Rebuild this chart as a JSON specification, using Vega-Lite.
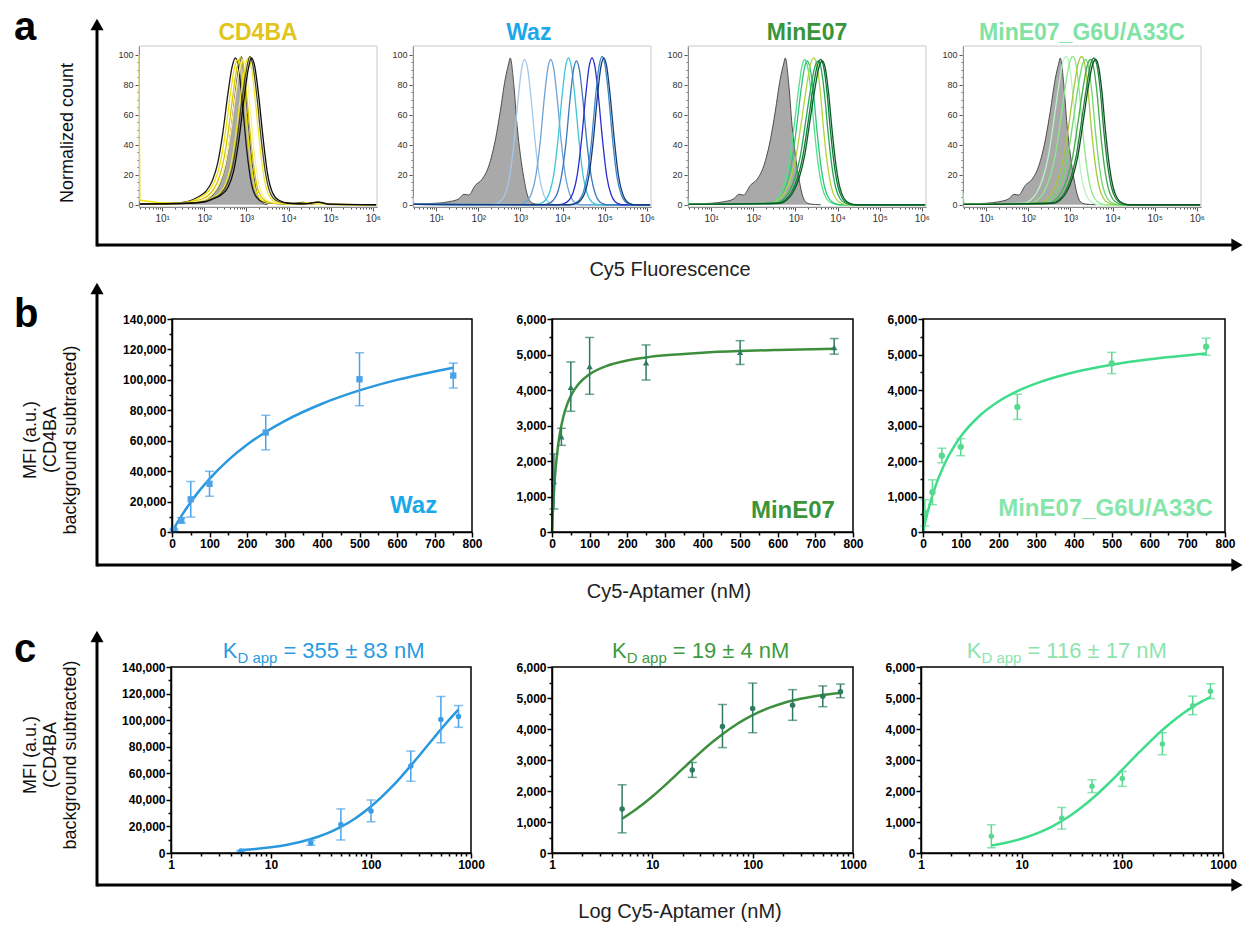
{
"$schema":"https://vega.github.io/schema/vega-lite/v6.json",
"width":1244,"height":925,"autosize":"none","padding":0,
"background":"white",
"config":{"view":{"stroke":null},"font":"Liberation Sans","axis":{"grid":false}},
"datasets":{
"gStd":[{"x":0.45,"y":0.5},{"x":1.0,"y":1},{"x":1.3,"y":2},{"x":1.54,"y":4},{"x":1.66,"y":7},{"x":1.77,"y":6.5},{"x":1.93,"y":13},{"x":2.09,"y":17},{"x":2.25,"y":26},{"x":2.41,"y":44},{"x":2.52,"y":62},{"x":2.64,"y":84},{"x":2.72,"y":94},{"x":2.76,"y":98},{"x":2.84,"y":81},{"x":2.92,"y":53},{"x":3.0,"y":33},{"x":3.08,"y":18},{"x":3.16,"y":7},{"x":3.24,"y":2},{"x":3.35,"y":0.5},{"x":3.6,"y":0}],
"gCD":[{"x":0.45,"y":0.3},{"x":1.2,"y":0.5},{"x":1.6,"y":1},{"x":1.9,"y":2},{"x":2.1,"y":4},{"x":2.25,"y":8},{"x":2.4,"y":16},{"x":2.53,"y":30},{"x":2.64,"y":52},{"x":2.74,"y":76},{"x":2.82,"y":92},{"x":2.88,"y":99},{"x":2.96,"y":82},{"x":3.04,"y":55},{"x":3.12,"y":32},{"x":3.2,"y":15},{"x":3.28,"y":5},{"x":3.38,"y":1},{"x":3.5,"y":0}],
"hCD":[
{"s":"c1","x":0.45,"y":0.5},{"s":"c1","x":1.24,"y":1},{"s":"c1","x":1.64,"y":2.5},{"s":"c1","x":1.84,"y":5},{"s":"c1","x":2.04,"y":9},{"s":"c1","x":2.19,"y":16},{"s":"c1","x":2.32,"y":28},{"s":"c1","x":2.44,"y":48},{"s":"c1","x":2.56,"y":74},{"s":"c1","x":2.66,"y":92},{"s":"c1","x":2.74,"y":98},{"s":"c1","x":2.82,"y":90},{"s":"c1","x":2.91,"y":66},{"s":"c1","x":3.01,"y":36},{"s":"c1","x":3.12,"y":14},{"s":"c1","x":3.24,"y":5},{"s":"c1","x":3.39,"y":2},{"s":"c1","x":3.64,"y":1},{"s":"c1","x":4.04,"y":0.6},{"s":"c1","x":4.34,"y":1.5},{"s":"c1","x":4.59,"y":0.4},{"s":"c1","x":6.08,"y":0},
{"s":"c2","x":0.45,"y":100},{"s":"c2","x":0.47,"y":3},{"s":"c2","x":1.3,"y":1},{"s":"c2","x":1.7,"y":2.5},{"s":"c2","x":1.9,"y":5},{"s":"c2","x":2.1,"y":9},{"s":"c2","x":2.25,"y":16},{"s":"c2","x":2.38,"y":28},{"s":"c2","x":2.5,"y":48},{"s":"c2","x":2.62,"y":74},{"s":"c2","x":2.72,"y":92},{"s":"c2","x":2.8,"y":97},{"s":"c2","x":2.88,"y":90},{"s":"c2","x":2.97,"y":66},{"s":"c2","x":3.07,"y":36},{"s":"c2","x":3.18,"y":14},{"s":"c2","x":3.3,"y":5},{"s":"c2","x":3.45,"y":2},{"s":"c2","x":3.7,"y":1},{"s":"c2","x":4.1,"y":0.6},{"s":"c2","x":4.4,"y":1.2},{"s":"c2","x":4.65,"y":0.4},{"s":"c2","x":6.08,"y":0},
{"s":"c3","x":0.45,"y":0.5},{"s":"c3","x":1.36,"y":1},{"s":"c3","x":1.76,"y":2.5},{"s":"c3","x":1.96,"y":4},{"s":"c3","x":2.16,"y":8},{"s":"c3","x":2.31,"y":15},{"s":"c3","x":2.44,"y":27},{"s":"c3","x":2.56,"y":47},{"s":"c3","x":2.68,"y":73},{"s":"c3","x":2.78,"y":92},{"s":"c3","x":2.86,"y":98},{"s":"c3","x":2.94,"y":90},{"s":"c3","x":3.03,"y":66},{"s":"c3","x":3.13,"y":36},{"s":"c3","x":3.24,"y":14},{"s":"c3","x":3.36,"y":5},{"s":"c3","x":3.51,"y":2},{"s":"c3","x":3.76,"y":1},{"s":"c3","x":4.16,"y":0.5},{"s":"c3","x":4.46,"y":1.2},{"s":"c3","x":4.71,"y":0.3},{"s":"c3","x":6.08,"y":0},
{"s":"c4","x":0.45,"y":0.5},{"s":"c4","x":1.42,"y":1},{"s":"c4","x":1.82,"y":2},{"s":"c4","x":2.02,"y":4},{"s":"c4","x":2.22,"y":8},{"s":"c4","x":2.37,"y":15},{"s":"c4","x":2.5,"y":27},{"s":"c4","x":2.62,"y":47},{"s":"c4","x":2.74,"y":73},{"s":"c4","x":2.84,"y":91},{"s":"c4","x":2.92,"y":97},{"s":"c4","x":3.0,"y":89},{"s":"c4","x":3.09,"y":64},{"s":"c4","x":3.19,"y":34},{"s":"c4","x":3.3,"y":13},{"s":"c4","x":3.42,"y":5},{"s":"c4","x":3.57,"y":2},{"s":"c4","x":3.82,"y":1},{"s":"c4","x":4.22,"y":0.5},{"s":"c4","x":4.52,"y":1},{"s":"c4","x":4.77,"y":0.3},{"s":"c4","x":6.08,"y":0},
{"s":"c5","x":0.45,"y":0.5},{"s":"c5","x":1.54,"y":1},{"s":"c5","x":1.94,"y":2},{"s":"c5","x":2.14,"y":4},{"s":"c5","x":2.34,"y":7},{"s":"c5","x":2.49,"y":13},{"s":"c5","x":2.62,"y":25},{"s":"c5","x":2.74,"y":45},{"s":"c5","x":2.86,"y":72},{"s":"c5","x":2.96,"y":91},{"s":"c5","x":3.04,"y":98},{"s":"c5","x":3.12,"y":91},{"s":"c5","x":3.21,"y":70},{"s":"c5","x":3.31,"y":42},{"s":"c5","x":3.42,"y":18},{"s":"c5","x":3.54,"y":6},{"s":"c5","x":3.69,"y":2},{"s":"c5","x":3.94,"y":1},{"s":"c5","x":4.34,"y":0.6},{"s":"c5","x":4.64,"y":1.5},{"s":"c5","x":4.89,"y":0.4},{"s":"c5","x":6.08,"y":0},
{"s":"c6","x":0.45,"y":0.5},{"s":"c6","x":1.58,"y":1},{"s":"c6","x":1.98,"y":2},{"s":"c6","x":2.18,"y":4},{"s":"c6","x":2.38,"y":7},{"s":"c6","x":2.53,"y":13},{"s":"c6","x":2.66,"y":24},{"s":"c6","x":2.78,"y":44},{"s":"c6","x":2.9,"y":71},{"s":"c6","x":3.0,"y":90},{"s":"c6","x":3.08,"y":99},{"s":"c6","x":3.16,"y":92},{"s":"c6","x":3.25,"y":72},{"s":"c6","x":3.35,"y":44},{"s":"c6","x":3.46,"y":20},{"s":"c6","x":3.58,"y":7},{"s":"c6","x":3.73,"y":2.5},{"s":"c6","x":3.98,"y":1},{"s":"c6","x":4.38,"y":0.6},{"s":"c6","x":4.68,"y":1.8},{"s":"c6","x":4.93,"y":0.4},{"s":"c6","x":6.08,"y":0},
{"s":"c7","x":0.45,"y":0.5},{"s":"c7","x":1.62,"y":1},{"s":"c7","x":2.02,"y":2},{"s":"c7","x":2.22,"y":4},{"s":"c7","x":2.42,"y":7},{"s":"c7","x":2.57,"y":12},{"s":"c7","x":2.7,"y":23},{"s":"c7","x":2.82,"y":43},{"s":"c7","x":2.94,"y":70},{"s":"c7","x":3.04,"y":90},{"s":"c7","x":3.12,"y":98},{"s":"c7","x":3.2,"y":92},{"s":"c7","x":3.29,"y":73},{"s":"c7","x":3.39,"y":46},{"s":"c7","x":3.5,"y":21},{"s":"c7","x":3.62,"y":8},{"s":"c7","x":3.77,"y":3},{"s":"c7","x":4.02,"y":1},{"s":"c7","x":4.42,"y":0.6},{"s":"c7","x":4.72,"y":1.8},{"s":"c7","x":4.97,"y":0.4},{"s":"c7","x":6.08,"y":0}
],
"hWaz":[
{"s":"w1","x":0.45,"y":5},{"s":"w1","x":0.48,"y":0.3},{"s":"w1","x":2.3,"y":0},{"s":"w1","x":2.45,"y":1},{"s":"w1","x":2.55,"y":3},{"s":"w1","x":2.65,"y":8},{"s":"w1","x":2.75,"y":20},{"s":"w1","x":2.85,"y":42},{"s":"w1","x":2.95,"y":72},{"s":"w1","x":3.03,"y":91},{"s":"w1","x":3.1,"y":97},{"s":"w1","x":3.17,"y":91},{"s":"w1","x":3.25,"y":72},{"s":"w1","x":3.35,"y":42},{"s":"w1","x":3.45,"y":19},{"s":"w1","x":3.55,"y":7},{"s":"w1","x":3.65,"y":2},{"s":"w1","x":3.8,"y":0},{"s":"w1","x":6.08,"y":0},
{"s":"w2","x":0.45,"y":0.3},{"s":"w2","x":2.92,"y":0},{"s":"w2","x":3.07,"y":1},{"s":"w2","x":3.17,"y":3},{"s":"w2","x":3.27,"y":8},{"s":"w2","x":3.37,"y":20},{"s":"w2","x":3.47,"y":42},{"s":"w2","x":3.57,"y":72},{"s":"w2","x":3.65,"y":91},{"s":"w2","x":3.72,"y":97},{"s":"w2","x":3.79,"y":91},{"s":"w2","x":3.87,"y":72},{"s":"w2","x":3.97,"y":42},{"s":"w2","x":4.07,"y":19},{"s":"w2","x":4.17,"y":7},{"s":"w2","x":4.27,"y":2},{"s":"w2","x":4.42,"y":0},{"s":"w2","x":6.08,"y":0},
{"s":"w3","x":0.45,"y":0.3},{"s":"w3","x":3.34,"y":0},{"s":"w3","x":3.49,"y":1},{"s":"w3","x":3.59,"y":3},{"s":"w3","x":3.69,"y":8},{"s":"w3","x":3.79,"y":20},{"s":"w3","x":3.89,"y":43},{"s":"w3","x":3.99,"y":73},{"s":"w3","x":4.07,"y":92},{"s":"w3","x":4.14,"y":98},{"s":"w3","x":4.21,"y":92},{"s":"w3","x":4.29,"y":73},{"s":"w3","x":4.39,"y":43},{"s":"w3","x":4.49,"y":19},{"s":"w3","x":4.59,"y":7},{"s":"w3","x":4.69,"y":2},{"s":"w3","x":4.84,"y":0},{"s":"w3","x":6.08,"y":0},
{"s":"w4","x":0.45,"y":0.3},{"s":"w4","x":3.53,"y":0},{"s":"w4","x":3.68,"y":1},{"s":"w4","x":3.78,"y":3},{"s":"w4","x":3.88,"y":8},{"s":"w4","x":3.98,"y":20},{"s":"w4","x":4.08,"y":41},{"s":"w4","x":4.18,"y":71},{"s":"w4","x":4.26,"y":90},{"s":"w4","x":4.33,"y":96},{"s":"w4","x":4.4,"y":90},{"s":"w4","x":4.48,"y":71},{"s":"w4","x":4.58,"y":41},{"s":"w4","x":4.68,"y":19},{"s":"w4","x":4.78,"y":7},{"s":"w4","x":4.88,"y":2},{"s":"w4","x":5.03,"y":0},{"s":"w4","x":6.08,"y":0},
{"s":"w5","x":0.45,"y":0.3},{"s":"w5","x":3.9,"y":0},{"s":"w5","x":4.05,"y":1},{"s":"w5","x":4.15,"y":3},{"s":"w5","x":4.25,"y":8},{"s":"w5","x":4.35,"y":20},{"s":"w5","x":4.45,"y":43},{"s":"w5","x":4.55,"y":73},{"s":"w5","x":4.63,"y":92},{"s":"w5","x":4.7,"y":98},{"s":"w5","x":4.77,"y":92},{"s":"w5","x":4.85,"y":73},{"s":"w5","x":4.95,"y":43},{"s":"w5","x":5.05,"y":19},{"s":"w5","x":5.15,"y":7},{"s":"w5","x":5.25,"y":2},{"s":"w5","x":5.4,"y":0},{"s":"w5","x":6.08,"y":0},
{"s":"w6","x":0.45,"y":0.3},{"s":"w6","x":4.14,"y":0},{"s":"w6","x":4.29,"y":1},{"s":"w6","x":4.39,"y":3},{"s":"w6","x":4.49,"y":8},{"s":"w6","x":4.59,"y":20},{"s":"w6","x":4.69,"y":43},{"s":"w6","x":4.79,"y":74},{"s":"w6","x":4.87,"y":93},{"s":"w6","x":4.94,"y":99},{"s":"w6","x":5.01,"y":93},{"s":"w6","x":5.09,"y":74},{"s":"w6","x":5.19,"y":43},{"s":"w6","x":5.29,"y":19},{"s":"w6","x":5.39,"y":7},{"s":"w6","x":5.49,"y":2},{"s":"w6","x":5.64,"y":0},{"s":"w6","x":6.08,"y":0},
{"s":"w7","x":0.45,"y":0.3},{"s":"w7","x":4.18,"y":0},{"s":"w7","x":4.33,"y":1},{"s":"w7","x":4.43,"y":3},{"s":"w7","x":4.53,"y":8},{"s":"w7","x":4.63,"y":20},{"s":"w7","x":4.73,"y":43},{"s":"w7","x":4.83,"y":73},{"s":"w7","x":4.91,"y":92},{"s":"w7","x":4.98,"y":98},{"s":"w7","x":5.05,"y":92},{"s":"w7","x":5.13,"y":73},{"s":"w7","x":5.23,"y":43},{"s":"w7","x":5.33,"y":19},{"s":"w7","x":5.43,"y":7},{"s":"w7","x":5.53,"y":2},{"s":"w7","x":5.68,"y":0},{"s":"w7","x":6.08,"y":0}
],
"hMin":[
{"s":"m1","x":0.45,"y":4},{"s":"m1","x":0.48,"y":0.3},{"s":"m1","x":2.42,"y":1},{"s":"m1","x":2.54,"y":3},{"s":"m1","x":2.66,"y":8},{"s":"m1","x":2.78,"y":18},{"s":"m1","x":2.88,"y":33},{"s":"m1","x":2.98,"y":55},{"s":"m1","x":3.08,"y":78},{"s":"m1","x":3.16,"y":93},{"s":"m1","x":3.22,"y":97},{"s":"m1","x":3.29,"y":92},{"s":"m1","x":3.37,"y":75},{"s":"m1","x":3.45,"y":50},{"s":"m1","x":3.54,"y":27},{"s":"m1","x":3.64,"y":11},{"s":"m1","x":3.74,"y":4},{"s":"m1","x":3.87,"y":1},{"s":"m1","x":4.02,"y":0},{"s":"m1","x":6.08,"y":0},
{"s":"m2","x":0.45,"y":0.3},{"s":"m2","x":2.48,"y":1},{"s":"m2","x":2.6,"y":3},{"s":"m2","x":2.72,"y":8},{"s":"m2","x":2.84,"y":18},{"s":"m2","x":2.94,"y":33},{"s":"m2","x":3.04,"y":55},{"s":"m2","x":3.14,"y":78},{"s":"m2","x":3.22,"y":92},{"s":"m2","x":3.28,"y":96},{"s":"m2","x":3.35,"y":91},{"s":"m2","x":3.43,"y":74},{"s":"m2","x":3.51,"y":50},{"s":"m2","x":3.6,"y":27},{"s":"m2","x":3.7,"y":11},{"s":"m2","x":3.8,"y":4},{"s":"m2","x":3.93,"y":1},{"s":"m2","x":4.08,"y":0},{"s":"m2","x":6.08,"y":0},
{"s":"m3","x":0.45,"y":0.3},{"s":"m3","x":2.44,"y":1},{"s":"m3","x":2.59,"y":3},{"s":"m3","x":2.74,"y":8},{"s":"m3","x":2.89,"y":18},{"s":"m3","x":3.02,"y":33},{"s":"m3","x":3.14,"y":55},{"s":"m3","x":3.26,"y":78},{"s":"m3","x":3.36,"y":94},{"s":"m3","x":3.44,"y":98},{"s":"m3","x":3.51,"y":93},{"s":"m3","x":3.59,"y":76},{"s":"m3","x":3.67,"y":50},{"s":"m3","x":3.76,"y":27},{"s":"m3","x":3.86,"y":11},{"s":"m3","x":3.96,"y":4},{"s":"m3","x":4.09,"y":1},{"s":"m3","x":4.24,"y":0},{"s":"m3","x":6.08,"y":0},
{"s":"m4","x":0.45,"y":0.3},{"s":"m4","x":2.54,"y":1},{"s":"m4","x":2.69,"y":3},{"s":"m4","x":2.84,"y":8},{"s":"m4","x":2.99,"y":18},{"s":"m4","x":3.12,"y":33},{"s":"m4","x":3.24,"y":55},{"s":"m4","x":3.36,"y":77},{"s":"m4","x":3.46,"y":92},{"s":"m4","x":3.54,"y":96},{"s":"m4","x":3.61,"y":91},{"s":"m4","x":3.69,"y":74},{"s":"m4","x":3.77,"y":50},{"s":"m4","x":3.86,"y":27},{"s":"m4","x":3.96,"y":11},{"s":"m4","x":4.06,"y":4},{"s":"m4","x":4.19,"y":1},{"s":"m4","x":4.34,"y":0},{"s":"m4","x":6.08,"y":0},
{"s":"m5","x":0.45,"y":0.3},{"s":"m5","x":2.6,"y":1},{"s":"m5","x":2.75,"y":3},{"s":"m5","x":2.9,"y":8},{"s":"m5","x":3.05,"y":18},{"s":"m5","x":3.18,"y":33},{"s":"m5","x":3.3,"y":55},{"s":"m5","x":3.42,"y":78},{"s":"m5","x":3.52,"y":93},{"s":"m5","x":3.6,"y":97},{"s":"m5","x":3.67,"y":92},{"s":"m5","x":3.75,"y":75},{"s":"m5","x":3.83,"y":50},{"s":"m5","x":3.92,"y":27},{"s":"m5","x":4.02,"y":11},{"s":"m5","x":4.12,"y":4},{"s":"m5","x":4.25,"y":1},{"s":"m5","x":4.4,"y":0},{"s":"m5","x":6.08,"y":0},
{"s":"m6","x":0.45,"y":0.3},{"s":"m6","x":2.64,"y":1},{"s":"m6","x":2.79,"y":3},{"s":"m6","x":2.94,"y":8},{"s":"m6","x":3.09,"y":18},{"s":"m6","x":3.22,"y":33},{"s":"m6","x":3.34,"y":55},{"s":"m6","x":3.46,"y":77},{"s":"m6","x":3.56,"y":92},{"s":"m6","x":3.64,"y":96},{"s":"m6","x":3.71,"y":91},{"s":"m6","x":3.79,"y":74},{"s":"m6","x":3.87,"y":50},{"s":"m6","x":3.96,"y":27},{"s":"m6","x":4.06,"y":11},{"s":"m6","x":4.16,"y":4},{"s":"m6","x":4.29,"y":1},{"s":"m6","x":4.44,"y":0},{"s":"m6","x":6.08,"y":0}
],
"hG6U":[
{"s":"g1","x":0.45,"y":0.3},{"s":"g1","x":1.9,"y":1},{"s":"g1","x":2.05,"y":3},{"s":"g1","x":2.2,"y":8},{"s":"g1","x":2.35,"y":18},{"s":"g1","x":2.48,"y":33},{"s":"g1","x":2.6,"y":55},{"s":"g1","x":2.72,"y":79},{"s":"g1","x":2.82,"y":95},{"s":"g1","x":2.9,"y":99},{"s":"g1","x":2.97,"y":94},{"s":"g1","x":3.05,"y":76},{"s":"g1","x":3.13,"y":50},{"s":"g1","x":3.22,"y":27},{"s":"g1","x":3.32,"y":11},{"s":"g1","x":3.42,"y":4},{"s":"g1","x":3.55,"y":1},{"s":"g1","x":3.7,"y":0},{"s":"g1","x":6.08,"y":0},
{"s":"g2","x":0.45,"y":8},{"s":"g2","x":0.48,"y":0.5},{"s":"g2","x":2.06,"y":1},{"s":"g2","x":2.21,"y":3},{"s":"g2","x":2.36,"y":8},{"s":"g2","x":2.51,"y":18},{"s":"g2","x":2.64,"y":33},{"s":"g2","x":2.76,"y":55},{"s":"g2","x":2.88,"y":79},{"s":"g2","x":2.98,"y":95},{"s":"g2","x":3.06,"y":99},{"s":"g2","x":3.13,"y":94},{"s":"g2","x":3.21,"y":76},{"s":"g2","x":3.29,"y":50},{"s":"g2","x":3.38,"y":27},{"s":"g2","x":3.48,"y":11},{"s":"g2","x":3.58,"y":4},{"s":"g2","x":3.71,"y":1},{"s":"g2","x":3.86,"y":0},{"s":"g2","x":6.08,"y":0},
{"s":"g3","x":0.45,"y":0.3},{"s":"g3","x":2.27,"y":1},{"s":"g3","x":2.42,"y":3},{"s":"g3","x":2.57,"y":8},{"s":"g3","x":2.72,"y":18},{"s":"g3","x":2.85,"y":33},{"s":"g3","x":2.97,"y":55},{"s":"g3","x":3.09,"y":79},{"s":"g3","x":3.19,"y":95},{"s":"g3","x":3.27,"y":99},{"s":"g3","x":3.34,"y":94},{"s":"g3","x":3.42,"y":76},{"s":"g3","x":3.5,"y":50},{"s":"g3","x":3.59,"y":27},{"s":"g3","x":3.69,"y":11},{"s":"g3","x":3.79,"y":4},{"s":"g3","x":3.92,"y":1},{"s":"g3","x":4.07,"y":0},{"s":"g3","x":6.08,"y":0},
{"s":"g4","x":0.45,"y":0.3},{"s":"g4","x":2.36,"y":1},{"s":"g4","x":2.51,"y":3},{"s":"g4","x":2.66,"y":8},{"s":"g4","x":2.81,"y":18},{"s":"g4","x":2.94,"y":33},{"s":"g4","x":3.06,"y":55},{"s":"g4","x":3.18,"y":78},{"s":"g4","x":3.28,"y":93},{"s":"g4","x":3.36,"y":97},{"s":"g4","x":3.43,"y":92},{"s":"g4","x":3.51,"y":75},{"s":"g4","x":3.59,"y":50},{"s":"g4","x":3.68,"y":27},{"s":"g4","x":3.78,"y":11},{"s":"g4","x":3.88,"y":4},{"s":"g4","x":4.01,"y":1},{"s":"g4","x":4.16,"y":0},{"s":"g4","x":6.08,"y":0},
{"s":"g5","x":0.45,"y":0.3},{"s":"g5","x":2.48,"y":1},{"s":"g5","x":2.63,"y":3},{"s":"g5","x":2.78,"y":8},{"s":"g5","x":2.93,"y":18},{"s":"g5","x":3.06,"y":33},{"s":"g5","x":3.18,"y":55},{"s":"g5","x":3.3,"y":78},{"s":"g5","x":3.4,"y":93},{"s":"g5","x":3.48,"y":97},{"s":"g5","x":3.55,"y":92},{"s":"g5","x":3.63,"y":75},{"s":"g5","x":3.71,"y":50},{"s":"g5","x":3.8,"y":27},{"s":"g5","x":3.9,"y":11},{"s":"g5","x":4.0,"y":4},{"s":"g5","x":4.13,"y":1},{"s":"g5","x":4.28,"y":0},{"s":"g5","x":6.08,"y":0},
{"s":"g6","x":0.45,"y":0.3},{"s":"g6","x":2.56,"y":1},{"s":"g6","x":2.71,"y":3},{"s":"g6","x":2.86,"y":8},{"s":"g6","x":3.01,"y":18},{"s":"g6","x":3.14,"y":33},{"s":"g6","x":3.26,"y":55},{"s":"g6","x":3.38,"y":78},{"s":"g6","x":3.48,"y":94},{"s":"g6","x":3.56,"y":98},{"s":"g6","x":3.63,"y":93},{"s":"g6","x":3.71,"y":76},{"s":"g6","x":3.79,"y":50},{"s":"g6","x":3.88,"y":27},{"s":"g6","x":3.98,"y":11},{"s":"g6","x":4.08,"y":4},{"s":"g6","x":4.21,"y":1},{"s":"g6","x":4.36,"y":0},{"s":"g6","x":6.08,"y":0},
{"s":"g7","x":0.45,"y":0.3},{"s":"g7","x":2.6,"y":1},{"s":"g7","x":2.75,"y":3},{"s":"g7","x":2.9,"y":8},{"s":"g7","x":3.05,"y":18},{"s":"g7","x":3.18,"y":33},{"s":"g7","x":3.3,"y":55},{"s":"g7","x":3.42,"y":78},{"s":"g7","x":3.52,"y":93},{"s":"g7","x":3.6,"y":97},{"s":"g7","x":3.67,"y":92},{"s":"g7","x":3.75,"y":75},{"s":"g7","x":3.83,"y":50},{"s":"g7","x":3.92,"y":27},{"s":"g7","x":4.02,"y":11},{"s":"g7","x":4.12,"y":4},{"s":"g7","x":4.25,"y":1},{"s":"g7","x":4.4,"y":0},{"s":"g7","x":6.08,"y":0}
],
"fitWaz":[{"x":0,"y":0},{"x":2,"y":891},{"x":5,"y":2210},{"x":7,"y":3077},{"x":10,"y":4359},{"x":15,"y":6451},{"x":20,"y":8486},{"x":30,"y":12399},{"x":40,"y":16113},{"x":50,"y":19644},{"x":70,"y":26208},{"x":75,"y":27753},{"x":100,"y":34971},{"x":150,"y":47263},{"x":200,"y":57341},{"x":250,"y":65752},{"x":300,"y":72880},{"x":400,"y":84302},{"x":500,"y":93053},{"x":600,"y":99971},{"x":750,"y":108000}],
"fitMin":[{"x":0,"y":0},{"x":2,"y":504},{"x":5,"y":1102},{"x":7,"y":1424},{"x":10,"y":1824},{"x":15,"y":2334},{"x":20,"y":2713},{"x":30,"y":3239},{"x":40,"y":3587},{"x":50,"y":3834},{"x":70,"y":4161},{"x":75,"y":4222},{"x":100,"y":4446},{"x":150,"y":4696},{"x":200,"y":4832},{"x":250,"y":4917},{"x":300,"y":4976},{"x":400,"y":5051},{"x":500,"y":5097},{"x":600,"y":5129},{"x":750,"y":5160}],
"fitG6U":[{"x":0,"y":0},{"x":2,"y":98},{"x":5,"y":240},{"x":7,"y":331},{"x":10,"y":461},{"x":15,"y":665},{"x":20,"y":854},{"x":30,"y":1193},{"x":40,"y":1489},{"x":50,"y":1749},{"x":70,"y":2186},{"x":75,"y":2281},{"x":100,"y":2689},{"x":150,"y":3275},{"x":200,"y":3676},{"x":250,"y":3967},{"x":300,"y":4188},{"x":400,"y":4502},{"x":500,"y":4714},{"x":600,"y":4867},{"x":750,"y":5030}],
"ptWaz":[{"x":5,"y":1500,"lo":1000,"hi":2000},{"x":25,"y":7600,"lo":5800,"hi":9400},{"x":50,"y":21500,"lo":9800,"hi":33200},{"x":100,"y":31700,"lo":23500,"hi":39900},{"x":250,"y":65400,"lo":54000,"hi":76700},{"x":500,"y":100400,"lo":83000,"hi":117800},{"x":750,"y":102800,"lo":94600,"hi":111000}],
"ptMin":[{"x":5,"y":1420,"lo":650,"hi":2200},{"x":25,"y":2680,"lo":2440,"hi":2920},{"x":50,"y":4080,"lo":3400,"hi":4790},{"x":100,"y":4660,"lo":3880,"hi":5480},{"x":250,"y":4770,"lo":4280,"hi":5270},{"x":500,"y":5060,"lo":4720,"hi":5390},{"x":750,"y":5200,"lo":5010,"hi":5450}],
"ptG6U":[{"x":5,"y":540,"lo":170,"hi":910},{"x":25,"y":1120,"lo":770,"hi":1470},{"x":50,"y":2150,"lo":1950,"hi":2360},{"x":100,"y":2400,"lo":2150,"hi":2630},{"x":250,"y":3520,"lo":3170,"hi":3880},{"x":500,"y":4750,"lo":4460,"hi":5060},{"x":750,"y":5220,"lo":4980,"hi":5460}],
"one":[{}]
},
"layer":[
{"data":{"name":"one"},
 "layer":[
  {"mark":{"type":"rule","color":"#000","strokeWidth":3},"encoding":{"x":{"datum":97,"type":"quantitative","scale":{"domain":[0,1244],"range":[0,1244],"nice":false,"zero":false},"axis":null},"y":{"datum":24,"type":"quantitative","scale":{"domain":[0,925],"range":[0,925],"nice":false,"zero":false},"axis":null},"y2":{"datum":246.5}}},
  {"mark":{"type":"rule","color":"#000","strokeWidth":3},"encoding":{"x":{"datum":97,"type":"quantitative"},"y":{"datum":288,"type":"quantitative"},"y2":{"datum":566.5}}},
  {"mark":{"type":"rule","color":"#000","strokeWidth":3},"encoding":{"x":{"datum":97,"type":"quantitative"},"y":{"datum":636,"type":"quantitative"},"y2":{"datum":886.5}}},
  {"mark":{"type":"rule","color":"#000","strokeWidth":3},"encoding":{"x":{"datum":97,"type":"quantitative"},"x2":{"datum":1235},"y":{"datum":245,"type":"quantitative"}}},
  {"mark":{"type":"rule","color":"#000","strokeWidth":3},"encoding":{"x":{"datum":97,"type":"quantitative"},"x2":{"datum":1235},"y":{"datum":565,"type":"quantitative"}}},
  {"mark":{"type":"rule","color":"#000","strokeWidth":3},"encoding":{"x":{"datum":97,"type":"quantitative"},"x2":{"datum":1235},"y":{"datum":885,"type":"quantitative"}}},
  {"mark":{"type":"point","shape":"triangle-up","filled":true,"size":170,"color":"#000","opacity":1},"encoding":{"x":{"datum":97,"type":"quantitative"},"y":{"datum":24.5,"type":"quantitative"}}},
  {"mark":{"type":"point","shape":"triangle-up","filled":true,"size":170,"color":"#000","opacity":1},"encoding":{"x":{"datum":97,"type":"quantitative"},"y":{"datum":288.5,"type":"quantitative"}}},
  {"mark":{"type":"point","shape":"triangle-up","filled":true,"size":170,"color":"#000","opacity":1},"encoding":{"x":{"datum":97,"type":"quantitative"},"y":{"datum":636.5,"type":"quantitative"}}},
  {"mark":{"type":"point","shape":"triangle-right","filled":true,"size":170,"color":"#000","opacity":1},"encoding":{"x":{"datum":1237,"type":"quantitative"},"y":{"datum":245,"type":"quantitative"}}},
  {"mark":{"type":"point","shape":"triangle-right","filled":true,"size":170,"color":"#000","opacity":1},"encoding":{"x":{"datum":1237,"type":"quantitative"},"y":{"datum":565,"type":"quantitative"}}},
  {"mark":{"type":"point","shape":"triangle-right","filled":true,"size":170,"color":"#000","opacity":1},"encoding":{"x":{"datum":1237,"type":"quantitative"},"y":{"datum":885,"type":"quantitative"}}},
  {"mark":{"type":"text","text":"a","fontSize":40,"fontWeight":"bold","align":"left","baseline":"alphabetic","color":"#000"},"encoding":{"x":{"datum":14,"type":"quantitative"},"y":{"datum":40,"type":"quantitative"}}},
  {"mark":{"type":"text","text":"b","fontSize":40,"fontWeight":"bold","align":"left","baseline":"alphabetic","color":"#000"},"encoding":{"x":{"datum":14,"type":"quantitative"},"y":{"datum":327,"type":"quantitative"}}},
  {"mark":{"type":"text","text":"c","fontSize":40,"fontWeight":"bold","align":"left","baseline":"alphabetic","color":"#000"},"encoding":{"x":{"datum":14,"type":"quantitative"},"y":{"datum":662,"type":"quantitative"}}},
  {"mark":{"type":"text","text":"Normalized count","fontSize":18,"angle":270,"align":"center","baseline":"middle","color":"#111"},"encoding":{"x":{"datum":68,"type":"quantitative"},"y":{"datum":133,"type":"quantitative"}}},
  {"mark":{"type":"text","text":["MFI  (a.u.)","(CD4BA","background subtracted)"],"lineHeight":20,"fontSize":18,"angle":270,"align":"center","baseline":"middle","color":"#111"},"encoding":{"x":{"datum":31,"type":"quantitative"},"y":{"datum":440,"type":"quantitative"}}},
  {"mark":{"type":"text","text":["MFI  (a.u.)","(CD4BA","background subtracted)"],"lineHeight":20,"fontSize":18,"angle":270,"align":"center","baseline":"middle","color":"#111"},"encoding":{"x":{"datum":31,"type":"quantitative"},"y":{"datum":755,"type":"quantitative"}}},
  {"mark":{"type":"text","text":"Cy5 Fluorescence","fontSize":20,"color":"#222","align":"center","baseline":"middle"},"encoding":{"x":{"datum":670,"type":"quantitative"},"y":{"datum":270,"type":"quantitative"}}},
  {"mark":{"type":"text","text":"Cy5-Aptamer (nM)","fontSize":20,"color":"#222","align":"center","baseline":"middle"},"encoding":{"x":{"datum":669,"type":"quantitative"},"y":{"datum":592,"type":"quantitative"}}},
  {"mark":{"type":"text","text":"Log Cy5-Aptamer (nM)","fontSize":20,"color":"#222","align":"center","baseline":"middle"},"encoding":{"x":{"datum":680,"type":"quantitative"},"y":{"datum":912,"type":"quantitative"}}}
 ]},

{"data":{"name":"gCD"},"mark":{"type":"area","color":"#a9a9a9","interpolate":"monotone"},"encoding":{"x":{"field":"x","type":"quantitative","scale":{"domain":[0.45,6.1],"range":[139,377],"nice":false,"zero":false},"axis":{"orient":"bottom","offset":-718,"title":null,"values":[0.477,0.602,0.699,0.778,0.845,0.903,0.954,1,1.301,1.477,1.602,1.699,1.778,1.845,1.903,1.954,2,2.301,2.477,2.602,2.699,2.778,2.845,2.903,2.954,3,3.301,3.477,3.602,3.699,3.778,3.845,3.903,3.954,4,4.301,4.477,4.602,4.699,4.778,4.845,4.903,4.954,5,5.301,5.477,5.602,5.699,5.778,5.845,5.903,5.954,6],"labelExpr":"datum.value % 1 === 0 ? '10' + ['⁰','¹','²','³','⁴','⁵','⁶'][datum.value] : ''","tickSize":{"condition":{"test":"datum.value % 1 === 0","value":4},"value":2},"labelFontSize":10,"labelColor":"#333","domainColor":"#555","tickColor":"#555","labelPadding":2,"labelOverlap":false,"labelFlush":false}},"y":{"field":"y","type":"quantitative","scale":{"domain":[-1.5,106],"range":[207,46],"nice":false,"zero":false},"axis":{"orient":"left","offset":-139,"title":null,"values":[0,5,10,15,20,25,30,35,40,45,50,55,60,65,70,75,80,85,90,95,100],"labelExpr":"datum.value % 20 === 0 ? format(datum.value, 'd') : ''","tickSize":{"condition":{"test":"datum.value % 20 === 0","value":4},"value":2},"labelFontSize":9,"labelColor":"#333","domainColor":"#555","tickColor":"#555","labelPadding":2,"labelOverlap":false,"labelFlush":false}}}},
{"layer":[
  {"data":{"name":"gCD"},"mark":{"type":"line","color":"#4d4d4d","strokeWidth":1,"interpolate":"monotone"},"encoding":{"x":{"field":"x","type":"quantitative","scale":{"domain":[0.45,6.1],"range":[139,377],"nice":false,"zero":false},"axis":null},"y":{"field":"y","type":"quantitative","scale":{"domain":[-1.5,106],"range":[207,46],"nice":false,"zero":false},"axis":null}}},
  {"data":{"name":"hCD"},"mark":{"type":"line","strokeWidth":1.3,"interpolate":"monotone"},"encoding":{"x":{"field":"x","type":"quantitative","axis":null},"y":{"field":"y","type":"quantitative","axis":null},"color":{"field":"s","type":"nominal","legend":null,"scale":{"domain":["c1","c2","c3","c4","c5","c6","c7"],"range":["#1a1a1a","#f0e000","#d9c400","#f7f090","#f5e52a","#4a4a20","#0a0a0a"]}}}},
  {"data":{"name":"one"},"mark":{"type":"rect","filled":false,"color":"#c8c8c8","strokeWidth":1},"encoding":{"x":{"datum":0.45,"type":"quantitative","axis":null},"x2":{"datum":6.1},"y":{"datum":-1.5,"type":"quantitative","axis":null},"y2":{"datum":106}}},
  {"data":{"name":"one"},"mark":{"type":"text","text":"CD4BA","fontSize":23,"fontWeight":"bold","color":"#e2c51c","align":"center","baseline":"alphabetic","dy":-6},"encoding":{"x":{"datum":3.275,"type":"quantitative","axis":null},"y":{"datum":106,"type":"quantitative","axis":null}}}
 ]},

{"data":{"name":"gStd"},"mark":{"type":"area","color":"#a9a9a9","interpolate":"monotone"},"encoding":{"x":{"field":"x","type":"quantitative","scale":{"domain":[0.45,6.1],"range":[413,651],"nice":false,"zero":false},"axis":{"orient":"bottom","offset":-718,"title":null,"values":[0.477,0.602,0.699,0.778,0.845,0.903,0.954,1,1.301,1.477,1.602,1.699,1.778,1.845,1.903,1.954,2,2.301,2.477,2.602,2.699,2.778,2.845,2.903,2.954,3,3.301,3.477,3.602,3.699,3.778,3.845,3.903,3.954,4,4.301,4.477,4.602,4.699,4.778,4.845,4.903,4.954,5,5.301,5.477,5.602,5.699,5.778,5.845,5.903,5.954,6],"labelExpr":"datum.value % 1 === 0 ? '10' + ['⁰','¹','²','³','⁴','⁵','⁶'][datum.value] : ''","tickSize":{"condition":{"test":"datum.value % 1 === 0","value":4},"value":2},"labelFontSize":10,"labelColor":"#333","domainColor":"#555","tickColor":"#555","labelPadding":2,"labelOverlap":false,"labelFlush":false}},"y":{"field":"y","type":"quantitative","scale":{"domain":[-1.5,106],"range":[207,46],"nice":false,"zero":false},"axis":{"orient":"left","offset":-413,"title":null,"values":[0,5,10,15,20,25,30,35,40,45,50,55,60,65,70,75,80,85,90,95,100],"labelExpr":"datum.value % 20 === 0 ? format(datum.value, 'd') : ''","tickSize":{"condition":{"test":"datum.value % 20 === 0","value":4},"value":2},"labelFontSize":9,"labelColor":"#333","domainColor":"#555","tickColor":"#555","labelPadding":2,"labelOverlap":false,"labelFlush":false}}}},
{"layer":[
  {"data":{"name":"gStd"},"mark":{"type":"line","color":"#4d4d4d","strokeWidth":1,"interpolate":"monotone"},"encoding":{"x":{"field":"x","type":"quantitative","scale":{"domain":[0.45,6.1],"range":[413,651],"nice":false,"zero":false},"axis":null},"y":{"field":"y","type":"quantitative","scale":{"domain":[-1.5,106],"range":[207,46],"nice":false,"zero":false},"axis":null}}},
  {"data":{"name":"hWaz"},"mark":{"type":"line","strokeWidth":1.3,"interpolate":"monotone"},"encoding":{"x":{"field":"x","type":"quantitative","axis":null},"y":{"field":"y","type":"quantitative","axis":null},"color":{"field":"s","type":"nominal","legend":null,"scale":{"domain":["w1","w2","w3","w4","w5","w6","w7"],"range":["#a4c8ea","#6fa3d6","#3ec6d6","#3a78bd","#2b2fcf","#3d88c8","#173c7a"]}}}},
  {"data":{"name":"one"},"mark":{"type":"rect","filled":false,"color":"#c8c8c8","strokeWidth":1},"encoding":{"x":{"datum":0.45,"type":"quantitative","axis":null},"x2":{"datum":6.1},"y":{"datum":-1.5,"type":"quantitative","axis":null},"y2":{"datum":106}}},
  {"data":{"name":"one"},"mark":{"type":"text","text":"Waz","fontSize":23,"fontWeight":"bold","color":"#1aa8e8","align":"center","baseline":"alphabetic","dy":-6},"encoding":{"x":{"datum":3.2,"type":"quantitative","axis":null},"y":{"datum":106,"type":"quantitative","axis":null}}}
 ]},

{"data":{"name":"gStd"},"mark":{"type":"area","color":"#a9a9a9","interpolate":"monotone"},"encoding":{"x":{"field":"x","type":"quantitative","scale":{"domain":[0.45,6.1],"range":[688,926],"nice":false,"zero":false},"axis":{"orient":"bottom","offset":-718,"title":null,"values":[0.477,0.602,0.699,0.778,0.845,0.903,0.954,1,1.301,1.477,1.602,1.699,1.778,1.845,1.903,1.954,2,2.301,2.477,2.602,2.699,2.778,2.845,2.903,2.954,3,3.301,3.477,3.602,3.699,3.778,3.845,3.903,3.954,4,4.301,4.477,4.602,4.699,4.778,4.845,4.903,4.954,5,5.301,5.477,5.602,5.699,5.778,5.845,5.903,5.954,6],"labelExpr":"datum.value % 1 === 0 ? '10' + ['⁰','¹','²','³','⁴','⁵','⁶'][datum.value] : ''","tickSize":{"condition":{"test":"datum.value % 1 === 0","value":4},"value":2},"labelFontSize":10,"labelColor":"#333","domainColor":"#555","tickColor":"#555","labelPadding":2,"labelOverlap":false,"labelFlush":false}},"y":{"field":"y","type":"quantitative","scale":{"domain":[-1.5,106],"range":[207,46],"nice":false,"zero":false},"axis":{"orient":"left","offset":-688,"title":null,"values":[0,5,10,15,20,25,30,35,40,45,50,55,60,65,70,75,80,85,90,95,100],"labelExpr":"datum.value % 20 === 0 ? format(datum.value, 'd') : ''","tickSize":{"condition":{"test":"datum.value % 20 === 0","value":4},"value":2},"labelFontSize":9,"labelColor":"#333","domainColor":"#555","tickColor":"#555","labelPadding":2,"labelOverlap":false,"labelFlush":false}}}},
{"layer":[
  {"data":{"name":"gStd"},"mark":{"type":"line","color":"#4d4d4d","strokeWidth":1,"interpolate":"monotone"},"encoding":{"x":{"field":"x","type":"quantitative","scale":{"domain":[0.45,6.1],"range":[688,926],"nice":false,"zero":false},"axis":null},"y":{"field":"y","type":"quantitative","scale":{"domain":[-1.5,106],"range":[207,46],"nice":false,"zero":false},"axis":null}}},
  {"data":{"name":"hMin"},"mark":{"type":"line","strokeWidth":1.3,"interpolate":"monotone"},"encoding":{"x":{"field":"x","type":"quantitative","axis":null},"y":{"field":"y","type":"quantitative","axis":null},"color":{"field":"s","type":"nominal","legend":null,"scale":{"domain":["m1","m2","m3","m4","m5","m6"],"range":["#52e08e","#2fc27a","#b5d43a","#27a85a","#0f7a38","#0a5c2a"]}}}},
  {"data":{"name":"one"},"mark":{"type":"rect","filled":false,"color":"#c8c8c8","strokeWidth":1},"encoding":{"x":{"datum":0.45,"type":"quantitative","axis":null},"x2":{"datum":6.1},"y":{"datum":-1.5,"type":"quantitative","axis":null},"y2":{"datum":106}}},
  {"data":{"name":"one"},"mark":{"type":"text","text":"MinE07","fontSize":23,"fontWeight":"bold","color":"#3a943a","align":"center","baseline":"alphabetic","dy":-6},"encoding":{"x":{"datum":3.275,"type":"quantitative","axis":null},"y":{"datum":106,"type":"quantitative","axis":null}}}
 ]},

{"data":{"name":"gStd"},"mark":{"type":"area","color":"#a9a9a9","interpolate":"monotone"},"encoding":{"x":{"field":"x","type":"quantitative","scale":{"domain":[0.45,6.1],"range":[963,1201],"nice":false,"zero":false},"axis":{"orient":"bottom","offset":-718,"title":null,"values":[0.477,0.602,0.699,0.778,0.845,0.903,0.954,1,1.301,1.477,1.602,1.699,1.778,1.845,1.903,1.954,2,2.301,2.477,2.602,2.699,2.778,2.845,2.903,2.954,3,3.301,3.477,3.602,3.699,3.778,3.845,3.903,3.954,4,4.301,4.477,4.602,4.699,4.778,4.845,4.903,4.954,5,5.301,5.477,5.602,5.699,5.778,5.845,5.903,5.954,6],"labelExpr":"datum.value % 1 === 0 ? '10' + ['⁰','¹','²','³','⁴','⁵','⁶'][datum.value] : ''","tickSize":{"condition":{"test":"datum.value % 1 === 0","value":4},"value":2},"labelFontSize":10,"labelColor":"#333","domainColor":"#555","tickColor":"#555","labelPadding":2,"labelOverlap":false,"labelFlush":false}},"y":{"field":"y","type":"quantitative","scale":{"domain":[-1.5,106],"range":[207,46],"nice":false,"zero":false},"axis":{"orient":"left","offset":-963,"title":null,"values":[0,5,10,15,20,25,30,35,40,45,50,55,60,65,70,75,80,85,90,95,100],"labelExpr":"datum.value % 20 === 0 ? format(datum.value, 'd') : ''","tickSize":{"condition":{"test":"datum.value % 20 === 0","value":4},"value":2},"labelFontSize":9,"labelColor":"#333","domainColor":"#555","tickColor":"#555","labelPadding":2,"labelOverlap":false,"labelFlush":false}}}},
{"layer":[
  {"data":{"name":"gStd"},"mark":{"type":"line","color":"#4d4d4d","strokeWidth":1,"interpolate":"monotone"},"encoding":{"x":{"field":"x","type":"quantitative","scale":{"domain":[0.45,6.1],"range":[963,1201],"nice":false,"zero":false},"axis":null},"y":{"field":"y","type":"quantitative","scale":{"domain":[-1.5,106],"range":[207,46],"nice":false,"zero":false},"axis":null}}},
  {"data":{"name":"hG6U"},"mark":{"type":"line","strokeWidth":1.3,"interpolate":"monotone"},"encoding":{"x":{"field":"x","type":"quantitative","axis":null},"y":{"field":"y","type":"quantitative","axis":null},"color":{"field":"s","type":"nominal","legend":null,"scale":{"domain":["g1","g2","g3","g4","g5","g6","g7"],"range":["#b9f2c4","#8fe88a","#a8c83a","#6fd86f","#3fae4a","#22803a","#0c4f25"]}}}},
  {"data":{"name":"one"},"mark":{"type":"rect","filled":false,"color":"#c8c8c8","strokeWidth":1},"encoding":{"x":{"datum":0.45,"type":"quantitative","axis":null},"x2":{"datum":6.1},"y":{"datum":-1.5,"type":"quantitative","axis":null},"y2":{"datum":106}}},
  {"data":{"name":"one"},"mark":{"type":"text","text":"MinE07_G6U/A33C","fontSize":23,"fontWeight":"bold","color":"#80e3a4","align":"center","baseline":"alphabetic","dy":-6},"encoding":{"x":{"datum":3.275,"type":"quantitative","axis":null},"y":{"datum":106,"type":"quantitative","axis":null}}}
 ]},

{"data":{"name":"fitWaz"},"mark":{"type":"line","color":"#2a98de","strokeWidth":2.5,"interpolate":"monotone"},"encoding":{"x":{"field":"x","type":"quantitative","scale":{"domain":[0,800],"range":[172,472],"nice":false,"zero":false},"axis":{"orient":"bottom","offset":-393,"title":null,"values":[0,50,100,150,200,250,300,350,400,450,500,550,600,650,700,750,800],"labelExpr":"datum.value % 100 === 0 ? format(datum.value, 'd') : ''","tickSize":{"condition":{"test":"datum.value % 100 === 0","value":5},"value":3},"labelFontSize":12,"labelFontWeight":"bold","labelColor":"#000","domainColor":"#000","domainWidth":1.5,"tickColor":"#000","tickWidth":1.5,"labelPadding":1,"labelOverlap":false,"labelFlush":false}},"y":{"field":"y","type":"quantitative","scale":{"domain":[0,140000],"range":[532,319],"nice":false,"zero":false},"axis":{"orient":"left","offset":-172,"title":null,"values":[0,10000,20000,30000,40000,50000,60000,70000,80000,90000,100000,110000,120000,130000,140000],"labelExpr":"datum.value % 20000 === 0 ? format(datum.value, ',') : ''","tickSize":{"condition":{"test":"datum.value % 20000 === 0","value":5},"value":3},"labelFontSize":12,"labelFontWeight":"bold","labelColor":"#000","domainColor":"#000","domainWidth":1.5,"tickColor":"#000","tickWidth":1.5,"labelPadding":1,"labelOverlap":false,"labelFlush":false}}}},
{"layer":[
  {"data":{"name":"ptWaz"},"mark":{"type":"errorbar","color":"#4aa3ea","thickness":1.5,"ticks":{"size":9}},"encoding":{"x":{"field":"x","type":"quantitative","scale":{"domain":[0,800],"range":[172,472],"nice":false,"zero":false},"axis":null},"y":{"field":"lo","type":"quantitative","scale":{"domain":[0,140000],"range":[532,319],"nice":false,"zero":false},"axis":null},"y2":{"field":"hi"}}},
  {"data":{"name":"ptWaz"},"mark":{"type":"point","shape":"square","filled":true,"size":40,"color":"#4aa3ea","opacity":1},"encoding":{"x":{"field":"x","type":"quantitative","axis":null},"y":{"field":"y","type":"quantitative","axis":null}}},
  {"data":{"name":"one"},"mark":{"type":"text","text":"Waz","align":"right","baseline":"alphabetic","fontSize":24,"fontWeight":"bold","color":"#1aa9e8"},"encoding":{"x":{"datum":707,"type":"quantitative","axis":null},"y":{"datum":12500,"type":"quantitative","axis":null}}},
  {"data":{"name":"one"},"mark":{"type":"rect","filled":false,"color":"#000","strokeWidth":1.5},"encoding":{"x":{"datum":0,"type":"quantitative","axis":null},"x2":{"datum":800},"y":{"datum":0,"type":"quantitative","axis":null},"y2":{"datum":140000}}}
 ]},

{"data":{"name":"fitMin"},"mark":{"type":"line","color":"#3d8f3d","strokeWidth":2.5,"interpolate":"monotone"},"encoding":{"x":{"field":"x","type":"quantitative","scale":{"domain":[0,800],"range":[552,853],"nice":false,"zero":false},"axis":{"orient":"bottom","offset":-393,"title":null,"values":[0,50,100,150,200,250,300,350,400,450,500,550,600,650,700,750,800],"labelExpr":"datum.value % 100 === 0 ? format(datum.value, 'd') : ''","tickSize":{"condition":{"test":"datum.value % 100 === 0","value":5},"value":3},"labelFontSize":12,"labelFontWeight":"bold","labelColor":"#000","domainColor":"#000","domainWidth":1.5,"tickColor":"#000","tickWidth":1.5,"labelPadding":1,"labelOverlap":false,"labelFlush":false}},"y":{"field":"y","type":"quantitative","scale":{"domain":[0,6000],"range":[532,319],"nice":false,"zero":false},"axis":{"orient":"left","offset":-552,"title":null,"values":[0,500,1000,1500,2000,2500,3000,3500,4000,4500,5000,5500,6000],"labelExpr":"datum.value % 1000 === 0 ? format(datum.value, ',') : ''","tickSize":{"condition":{"test":"datum.value % 1000 === 0","value":5},"value":3},"labelFontSize":12,"labelFontWeight":"bold","labelColor":"#000","domainColor":"#000","domainWidth":1.5,"tickColor":"#000","tickWidth":1.5,"labelPadding":1,"labelOverlap":false,"labelFlush":false}}}},
{"layer":[
  {"data":{"name":"ptMin"},"mark":{"type":"errorbar","color":"#2e7b60","thickness":1.5,"ticks":{"size":9}},"encoding":{"x":{"field":"x","type":"quantitative","scale":{"domain":[0,800],"range":[552,853],"nice":false,"zero":false},"axis":null},"y":{"field":"lo","type":"quantitative","scale":{"domain":[0,6000],"range":[532,319],"nice":false,"zero":false},"axis":null},"y2":{"field":"hi"}}},
  {"data":{"name":"ptMin"},"mark":{"type":"point","shape":"triangle-up","filled":true,"size":40,"color":"#2e7b60","opacity":1},"encoding":{"x":{"field":"x","type":"quantitative","axis":null},"y":{"field":"y","type":"quantitative","axis":null}}},
  {"data":{"name":"one"},"mark":{"type":"text","text":"MinE07","align":"right","baseline":"alphabetic","fontSize":24,"fontWeight":"bold","color":"#3a953a"},"encoding":{"x":{"datum":752,"type":"quantitative","axis":null},"y":{"datum":400,"type":"quantitative","axis":null}}},
  {"data":{"name":"one"},"mark":{"type":"rect","filled":false,"color":"#000","strokeWidth":1.5},"encoding":{"x":{"datum":0,"type":"quantitative","axis":null},"x2":{"datum":800},"y":{"datum":0,"type":"quantitative","axis":null},"y2":{"datum":6000}}}
 ]},

{"data":{"name":"fitG6U"},"mark":{"type":"line","color":"#3fdc8a","strokeWidth":2.5,"interpolate":"monotone"},"encoding":{"x":{"field":"x","type":"quantitative","scale":{"domain":[0,800],"range":[923,1225],"nice":false,"zero":false},"axis":{"orient":"bottom","offset":-393,"title":null,"values":[0,50,100,150,200,250,300,350,400,450,500,550,600,650,700,750,800],"labelExpr":"datum.value % 100 === 0 ? format(datum.value, 'd') : ''","tickSize":{"condition":{"test":"datum.value % 100 === 0","value":5},"value":3},"labelFontSize":12,"labelFontWeight":"bold","labelColor":"#000","domainColor":"#000","domainWidth":1.5,"tickColor":"#000","tickWidth":1.5,"labelPadding":1,"labelOverlap":false,"labelFlush":false}},"y":{"field":"y","type":"quantitative","scale":{"domain":[0,6000],"range":[532,319],"nice":false,"zero":false},"axis":{"orient":"left","offset":-923,"title":null,"values":[0,500,1000,1500,2000,2500,3000,3500,4000,4500,5000,5500,6000],"labelExpr":"datum.value % 1000 === 0 ? format(datum.value, ',') : ''","tickSize":{"condition":{"test":"datum.value % 1000 === 0","value":5},"value":3},"labelFontSize":12,"labelFontWeight":"bold","labelColor":"#000","domainColor":"#000","domainWidth":1.5,"tickColor":"#000","tickWidth":1.5,"labelPadding":1,"labelOverlap":false,"labelFlush":false}}}},
{"layer":[
  {"data":{"name":"ptG6U"},"mark":{"type":"errorbar","color":"#59d990","thickness":1.5,"ticks":{"size":9}},"encoding":{"x":{"field":"x","type":"quantitative","scale":{"domain":[0,800],"range":[923,1225],"nice":false,"zero":false},"axis":null},"y":{"field":"lo","type":"quantitative","scale":{"domain":[0,6000],"range":[532,319],"nice":false,"zero":false},"axis":null},"y2":{"field":"hi"}}},
  {"data":{"name":"ptG6U"},"mark":{"type":"point","shape":"circle","filled":true,"size":40,"color":"#59d990","opacity":1},"encoding":{"x":{"field":"x","type":"quantitative","axis":null},"y":{"field":"y","type":"quantitative","axis":null}}},
  {"data":{"name":"one"},"mark":{"type":"text","text":"MinE07_G6U/A33C","align":"right","baseline":"alphabetic","fontSize":24,"fontWeight":"bold","color":"#86e6a9"},"encoding":{"x":{"datum":768,"type":"quantitative","axis":null},"y":{"datum":450,"type":"quantitative","axis":null}}},
  {"data":{"name":"one"},"mark":{"type":"rect","filled":false,"color":"#000","strokeWidth":1.5},"encoding":{"x":{"datum":0,"type":"quantitative","axis":null},"x2":{"datum":800},"y":{"datum":0,"type":"quantitative","axis":null},"y2":{"datum":6000}}}
 ]},

{"data":{"name":"fitWaz"},"transform":[{"filter":"datum.x >= 5"}],"mark":{"type":"line","color":"#2a98de","strokeWidth":2.5,"interpolate":"monotone"},"encoding":{"x":{"field":"x","type":"quantitative","scale":{"type":"log","domain":[1,1000],"range":[171,471],"nice":false},"axis":{"orient":"bottom","offset":-72,"title":null,"values":[1,2,3,4,5,6,7,8,9,10,20,30,40,50,60,70,80,90,100,200,300,400,500,600,700,800,900,1000],"labelExpr":"indexof([1,10,100,1000], datum.value) >= 0 ? format(datum.value, 'd') : ''","tickSize":{"condition":{"test":"indexof([1,10,100,1000], datum.value) >= 0","value":5},"value":3},"labelFontSize":12,"labelFontWeight":"bold","labelColor":"#000","domainColor":"#000","domainWidth":1.5,"tickColor":"#000","tickWidth":1.5,"labelPadding":1,"labelOverlap":false,"labelFlush":false}},"y":{"field":"y","type":"quantitative","scale":{"domain":[0,140000],"range":[853,667],"nice":false,"zero":false},"axis":{"orient":"left","offset":-171,"title":null,"values":[0,10000,20000,30000,40000,50000,60000,70000,80000,90000,100000,110000,120000,130000,140000],"labelExpr":"datum.value % 20000 === 0 ? format(datum.value, ',') : ''","tickSize":{"condition":{"test":"datum.value % 20000 === 0","value":5},"value":3},"labelFontSize":12,"labelFontWeight":"bold","labelColor":"#000","domainColor":"#000","domainWidth":1.5,"tickColor":"#000","tickWidth":1.5,"labelPadding":1,"labelOverlap":false,"labelFlush":false}}}},
{"layer":[
  {"data":{"name":"ptWaz"},"mark":{"type":"errorbar","color":"#4aa3ea","thickness":1.5,"ticks":{"size":9}},"encoding":{"x":{"field":"x","type":"quantitative","scale":{"type":"log","domain":[1,1000],"range":[171,471],"nice":false},"axis":null},"y":{"field":"lo","type":"quantitative","scale":{"domain":[0,140000],"range":[853,667],"nice":false,"zero":false},"axis":null},"y2":{"field":"hi"}}},
  {"data":{"name":"ptWaz"},"mark":{"type":"point","shape":"circle","filled":true,"size":30,"color":"#3a9be6","opacity":1},"encoding":{"x":{"field":"x","type":"quantitative","axis":null},"y":{"field":"y","type":"quantitative","axis":null}}},
  {"data":{"name":"one"},"mark":{"type":"rect","filled":false,"color":"#000","strokeWidth":1.5},"encoding":{"x":{"datum":1,"type":"quantitative","axis":null},"x2":{"datum":1000},"y":{"datum":0,"type":"quantitative","axis":null},"y2":{"datum":140000}}},
  {"data":{"name":"one"},"mark":{"type":"text","text":"K","align":"left","baseline":"alphabetic","fontSize":22,"color":"#2a9be0","dx":-98.3,"dy":-9},"encoding":{"x":{"datum":31.62,"type":"quantitative","axis":null},"y":{"datum":140000,"type":"quantitative","axis":null}}},
  {"data":{"name":"one"},"mark":{"type":"text","text":"D app","align":"left","baseline":"alphabetic","fontSize":15,"color":"#2a9be0","dx":-83.6,"dy":-4},"encoding":{"x":{"datum":31.62,"type":"quantitative","axis":null},"y":{"datum":140000,"type":"quantitative","axis":null}}},
  {"data":{"name":"one"},"mark":{"type":"text","text":"= 355 ± 83 nM","align":"left","baseline":"alphabetic","fontSize":22,"color":"#2a9be0","dx":-37.6,"dy":-9},"encoding":{"x":{"datum":31.62,"type":"quantitative","axis":null},"y":{"datum":140000,"type":"quantitative","axis":null}}}
 ]},

{"data":{"name":"fitMin"},"transform":[{"filter":"datum.x >= 5"}],"mark":{"type":"line","color":"#3d8f3d","strokeWidth":2.5,"interpolate":"monotone"},"encoding":{"x":{"field":"x","type":"quantitative","scale":{"type":"log","domain":[1,1000],"range":[552,853],"nice":false},"axis":{"orient":"bottom","offset":-72,"title":null,"values":[1,2,3,4,5,6,7,8,9,10,20,30,40,50,60,70,80,90,100,200,300,400,500,600,700,800,900,1000],"labelExpr":"indexof([1,10,100,1000], datum.value) >= 0 ? format(datum.value, 'd') : ''","tickSize":{"condition":{"test":"indexof([1,10,100,1000], datum.value) >= 0","value":5},"value":3},"labelFontSize":12,"labelFontWeight":"bold","labelColor":"#000","domainColor":"#000","domainWidth":1.5,"tickColor":"#000","tickWidth":1.5,"labelPadding":1,"labelOverlap":false,"labelFlush":false}},"y":{"field":"y","type":"quantitative","scale":{"domain":[0,6000],"range":[853,667],"nice":false,"zero":false},"axis":{"orient":"left","offset":-552,"title":null,"values":[0,500,1000,1500,2000,2500,3000,3500,4000,4500,5000,5500,6000],"labelExpr":"datum.value % 1000 === 0 ? format(datum.value, ',') : ''","tickSize":{"condition":{"test":"datum.value % 1000 === 0","value":5},"value":3},"labelFontSize":12,"labelFontWeight":"bold","labelColor":"#000","domainColor":"#000","domainWidth":1.5,"tickColor":"#000","tickWidth":1.5,"labelPadding":1,"labelOverlap":false,"labelFlush":false}}}},
{"layer":[
  {"data":{"name":"ptMin"},"mark":{"type":"errorbar","color":"#2e7b60","thickness":1.5,"ticks":{"size":9}},"encoding":{"x":{"field":"x","type":"quantitative","scale":{"type":"log","domain":[1,1000],"range":[552,853],"nice":false},"axis":null},"y":{"field":"lo","type":"quantitative","scale":{"domain":[0,6000],"range":[853,667],"nice":false,"zero":false},"axis":null},"y2":{"field":"hi"}}},
  {"data":{"name":"ptMin"},"mark":{"type":"point","shape":"circle","filled":true,"size":30,"color":"#2e7b60","opacity":1},"encoding":{"x":{"field":"x","type":"quantitative","axis":null},"y":{"field":"y","type":"quantitative","axis":null}}},
  {"data":{"name":"one"},"mark":{"type":"rect","filled":false,"color":"#000","strokeWidth":1.5},"encoding":{"x":{"datum":1,"type":"quantitative","axis":null},"x2":{"datum":1000},"y":{"datum":0,"type":"quantitative","axis":null},"y2":{"datum":6000}}},
  {"data":{"name":"one"},"mark":{"type":"text","text":"K","align":"left","baseline":"alphabetic","fontSize":22,"color":"#3e9a3e","dx":-90.5,"dy":-9},"encoding":{"x":{"datum":31.62,"type":"quantitative","axis":null},"y":{"datum":6000,"type":"quantitative","axis":null}}},
  {"data":{"name":"one"},"mark":{"type":"text","text":"D app","align":"left","baseline":"alphabetic","fontSize":15,"color":"#3e9a3e","dx":-75.8,"dy":-4},"encoding":{"x":{"datum":31.62,"type":"quantitative","axis":null},"y":{"datum":6000,"type":"quantitative","axis":null}}},
  {"data":{"name":"one"},"mark":{"type":"text","text":"= 19 ± 4 nM","align":"left","baseline":"alphabetic","fontSize":22,"color":"#3e9a3e","dx":-29.8,"dy":-9},"encoding":{"x":{"datum":31.62,"type":"quantitative","axis":null},"y":{"datum":6000,"type":"quantitative","axis":null}}}
 ]},

{"data":{"name":"fitG6U"},"transform":[{"filter":"datum.x >= 5"}],"mark":{"type":"line","color":"#3fdc8a","strokeWidth":2.5,"interpolate":"monotone"},"encoding":{"x":{"field":"x","type":"quantitative","scale":{"type":"log","domain":[1,1000],"range":[921,1223],"nice":false},"axis":{"orient":"bottom","offset":-72,"title":null,"values":[1,2,3,4,5,6,7,8,9,10,20,30,40,50,60,70,80,90,100,200,300,400,500,600,700,800,900,1000],"labelExpr":"indexof([1,10,100,1000], datum.value) >= 0 ? format(datum.value, 'd') : ''","tickSize":{"condition":{"test":"indexof([1,10,100,1000], datum.value) >= 0","value":5},"value":3},"labelFontSize":12,"labelFontWeight":"bold","labelColor":"#000","domainColor":"#000","domainWidth":1.5,"tickColor":"#000","tickWidth":1.5,"labelPadding":1,"labelOverlap":false,"labelFlush":false}},"y":{"field":"y","type":"quantitative","scale":{"domain":[0,6000],"range":[853,667],"nice":false,"zero":false},"axis":{"orient":"left","offset":-921,"title":null,"values":[0,500,1000,1500,2000,2500,3000,3500,4000,4500,5000,5500,6000],"labelExpr":"datum.value % 1000 === 0 ? format(datum.value, ',') : ''","tickSize":{"condition":{"test":"datum.value % 1000 === 0","value":5},"value":3},"labelFontSize":12,"labelFontWeight":"bold","labelColor":"#000","domainColor":"#000","domainWidth":1.5,"tickColor":"#000","tickWidth":1.5,"labelPadding":1,"labelOverlap":false,"labelFlush":false}}}},
{"layer":[
  {"data":{"name":"ptG6U"},"mark":{"type":"errorbar","color":"#59d990","thickness":1.5,"ticks":{"size":9}},"encoding":{"x":{"field":"x","type":"quantitative","scale":{"type":"log","domain":[1,1000],"range":[921,1223],"nice":false},"axis":null},"y":{"field":"lo","type":"quantitative","scale":{"domain":[0,6000],"range":[853,667],"nice":false,"zero":false},"axis":null},"y2":{"field":"hi"}}},
  {"data":{"name":"ptG6U"},"mark":{"type":"point","shape":"circle","filled":true,"size":30,"color":"#59d990","opacity":1},"encoding":{"x":{"field":"x","type":"quantitative","axis":null},"y":{"field":"y","type":"quantitative","axis":null}}},
  {"data":{"name":"one"},"mark":{"type":"rect","filled":false,"color":"#000","strokeWidth":1.5},"encoding":{"x":{"datum":1,"type":"quantitative","axis":null},"x2":{"datum":1000},"y":{"datum":0,"type":"quantitative","axis":null},"y2":{"datum":6000}}},
  {"data":{"name":"one"},"mark":{"type":"text","text":"K","align":"left","baseline":"alphabetic","fontSize":22,"color":"#8de4ae","dx":-105.3,"dy":-9},"encoding":{"x":{"datum":31.62,"type":"quantitative","axis":null},"y":{"datum":6000,"type":"quantitative","axis":null}}},
  {"data":{"name":"one"},"mark":{"type":"text","text":"D app","align":"left","baseline":"alphabetic","fontSize":15,"color":"#8de4ae","dx":-90.6,"dy":-4},"encoding":{"x":{"datum":31.62,"type":"quantitative","axis":null},"y":{"datum":6000,"type":"quantitative","axis":null}}},
  {"data":{"name":"one"},"mark":{"type":"text","text":"= 116 ± 17 nM","align":"left","baseline":"alphabetic","fontSize":22,"color":"#8de4ae","dx":-44.6,"dy":-9},"encoding":{"x":{"datum":31.62,"type":"quantitative","axis":null},"y":{"datum":6000,"type":"quantitative","axis":null}}}
 ]}
],
"resolve":{"scale":{"x":"independent","y":"independent","color":"independent"},"axis":{"x":"independent","y":"independent"}}
}
